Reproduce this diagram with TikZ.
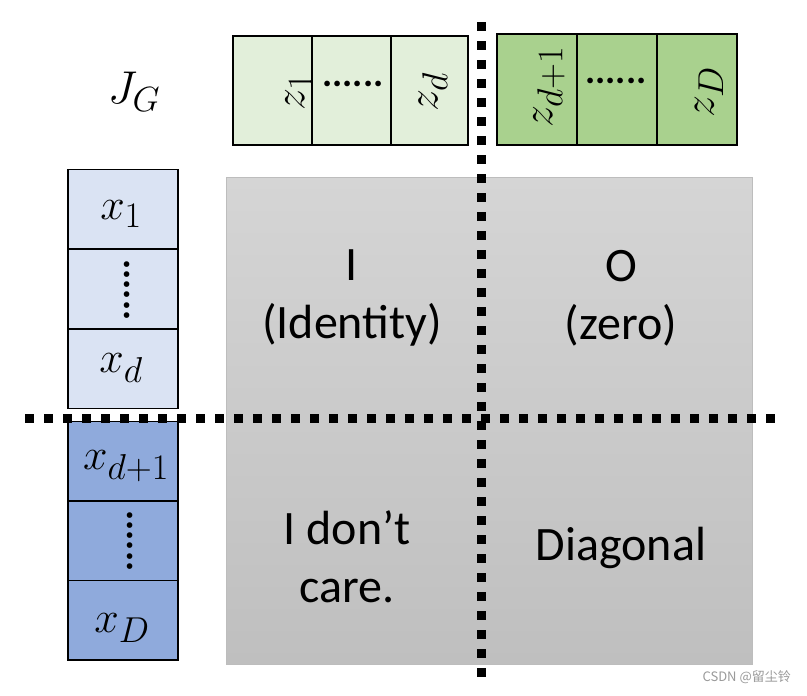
\RequirePackage{fix-cm}
\documentclass[tikz,border=0pt]{standalone}
\usepackage{fontspec}
\setmainfont{Carlito}
\newfontfamily\cjkfont{Noto Sans CJK SC}
\DeclareMathSizes{44}{44}{36}{26}
\DeclareMathSizes{46}{46}{35}{25}
\definecolor{lgreen}{HTML}{E2EFDA}
\definecolor{dgreen}{HTML}{A9D18E}
\definecolor{lblue}{HTML}{DAE3F3}
\definecolor{dblue}{HTML}{8FAADC}
\definecolor{gtop}{HTML}{D5D5D5}
\definecolor{gbot}{HTML}{BFBFBF}
\definecolor{gedge}{HTML}{BDBDBD}
\definecolor{wmark}{HTML}{9A9A9A}
\begin{document}
\begin{tikzpicture}[x=1pt,y=-1pt,
  cell/.style={draw=black, line width=1.5pt, inner sep=0pt, outer sep=0pt, minimum height=109pt},
  xcell/.style={draw=black, line width=1.5pt, inner sep=0pt, outer sep=0pt, minimum width=110pt, minimum height=79.5pt},
  mlabel/.style={inner sep=0pt, font=\fontsize{44}{44}\selectfont},
  dots/.style={inner sep=0pt, font=\fontsize{38}{38}\selectfont\bfseries},
  big/.style={align=center, inner sep=0pt, font=\fontsize{48}{58}\selectfont},
  sep/.style={line width=9pt, dash pattern=on 9pt off 10pt}
]
\useasboundingbox (0,0) rectangle (807,696);
\fill[white] (0,0) rectangle (807,696);

% J_G
\node[inner sep=0pt, font=\fontsize{46}{46}\selectfont] (jg) at (134,92) {$J_G$};

% green z boxes
\node[cell, fill=lgreen, minimum width=79pt] (g1) at (272.5,90.5) {};
\node[cell, fill=lgreen, minimum width=79pt] (g2) at (351.5,90.5) {};
\node[cell, fill=lgreen, minimum width=77pt] (g3) at (429.5,90.5) {};
\node[cell, fill=dgreen, minimum width=80pt, minimum height=111pt] (h1) at (537,89.5) {};
\node[cell, fill=dgreen, minimum width=80pt, minimum height=111pt] (h2) at (617,89.5) {};
\node[cell, fill=dgreen, minimum width=80pt, minimum height=111pt] (h3) at (697,89.5) {};
\node[mlabel, rotate=90] (z1) at (299,92) {$z_1$};
\node[mlabel, rotate=90] (zd) at (433,92) {$z_d$};
\node[mlabel, rotate=90] (zd1) at (549,87) {$z_{d+1}$};
\node[mlabel, rotate=90] (zD) at (709,92) {$z_D$};
\node[dots] (gd) at (353,84) {......};
\node[dots] (hd) at (616,81) {......};

% blue x boxes
\node[xcell, fill=lblue] (b1) at (123,209) {};
\node[xcell, fill=lblue] (b2) at (123,289) {};
\node[xcell, fill=lblue] (b3) at (123,368.5) {};
\node[xcell, fill=dblue] (c1) at (123,461) {};
\node[xcell, fill=dblue] (c2) at (123,540.5) {};
\node[xcell, fill=dblue] (c3) at (123,620) {};
\node[mlabel] (x1) at (121,214) {$x_1$};
\node[mlabel] (xd) at (121,368) {$x_d$};
\node[mlabel] (xd1) at (126,466) {$x_{d+1}$};
\node[mlabel] (xD) at (122,628) {$x_D$};
\node[dots, rotate=-90] (bd) at (127,290) {......};
\node[dots, rotate=-90] (cd) at (130,541) {......};

% matrix
\node[draw=gedge, line width=0.8pt, top color=gtop, bottom color=gbot,
  minimum width=526pt, minimum height=487pt, inner sep=0pt] (mat) at (489,420.5) {};
\node[big] (q1) at (352,298) {I\\(Identity)};
\node[big] (q2) at (621,298) {O\\(zero)};
\node[big] (q3) at (347,557) {I don’t\\care.};
\node[big] (q4) at (621,548) {Diagonal};

% separators
\coordinate (hl) at (25,418);
\coordinate (hr) at (777,418);
\coordinate (vt) at (481,22);
\coordinate (vb) at (481,684);
\draw[sep] (hl) -- (hr);
\draw[sep] (vt) -- (vb);

% watermark
\node[inner sep=0pt, anchor=east, text=wmark, font=\cjkfont\fontsize{13}{13}\selectfont] (wm) at (791,677) {CSDN @留尘铃};
\end{tikzpicture}
\end{document}
